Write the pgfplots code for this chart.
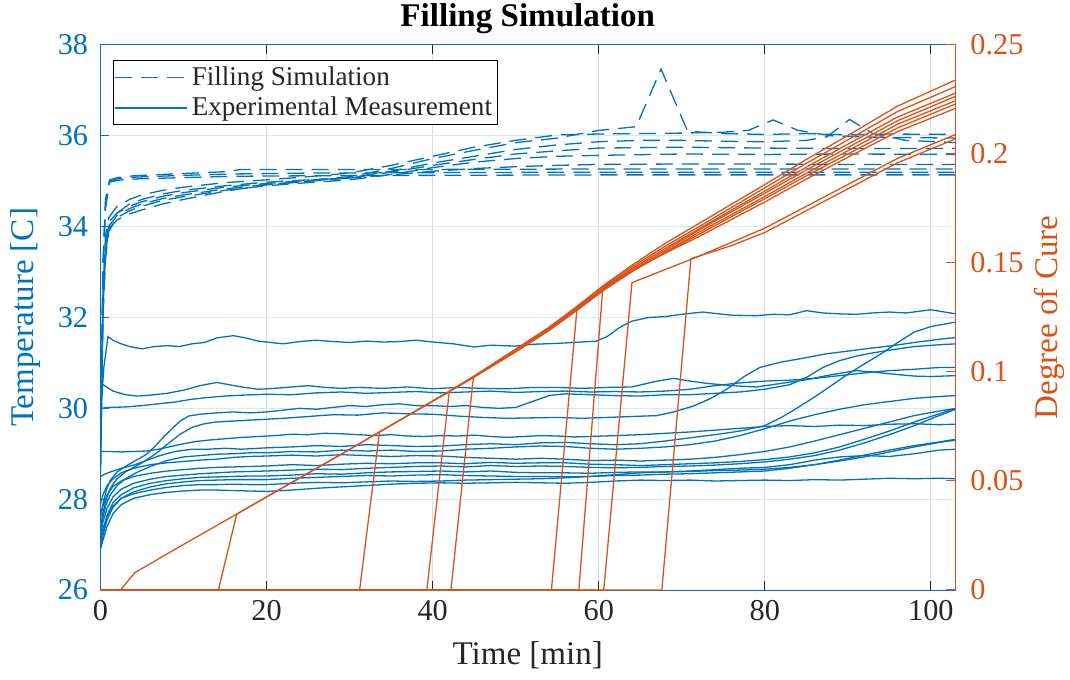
\documentclass[border=0pt]{standalone}
\usepackage{fontspec}
\setmainfont{Liberation Serif}
\usepackage{pgfplots}
\pgfplotsset{compat=1.18}
\usetikzlibrary{calc}
\definecolor{mblue}{RGB}{0,114,189}
\definecolor{morange}{RGB}{217,83,25}
\definecolor{axgray}{RGB}{38,38,38}
\pgfplotsset{
  common/.style={
    scale only axis, width=427.25bp, height=272.5bp,
    xmin=0, xmax=102.9,
    tick align=inside, major tick length=4.5bp,
    /pgf/number format/assume math mode=true,
    tick label style={font=\fontsize{15.2}{17}\selectfont},
  },
  sim/.style={mblue, line width=0.65bp, dash pattern=on 8.5bp off 4.5bp},
  exp/.style={mblue, line width=0.65bp},
  cure/.style={morange, line width=0.65bp},
}
\begin{document}
\begin{tikzpicture}
\begin{axis}[common,
  ymin=26, ymax=38, ytick={26,28,30,32,34,36,38},
  xtick={0,20,40,60,80,100},
  ytick pos=left,
  x axis line style={draw=axgray, line width=0.5bp},
  y axis line style={draw=mblue, line width=0.5bp},
  x tick style={axgray, line width=0.5bp},
  y tick style={mblue, line width=0.5bp},
  xticklabel style={text=axgray, anchor=north, inner sep=0pt, yshift=-5bp},
  yticklabel style={text=mblue, anchor=east, inner sep=0pt, xshift=-6bp},
  xmajorgrids, ymajorgrids,
  x grid style={black!14, line width=0.5bp},
  y grid style={mblue!16, line width=0.5bp},
  legend style={at={(0,1)}, anchor=north west, xshift=6.25bp, yshift=-7.5bp,
    draw=black, line width=0.5bp, fill=white, text=axgray,
    font=\fontsize{13.6}{15}\selectfont, inner xsep=0.5bp, inner ysep=0.8bp,
    nodes={inner xsep=2bp, inner ysep=2.2bp}, cells={anchor=west}},
  legend image code/.code={\draw[#1] (0bp,0bp) -- (36bp,0bp);},
]
\addlegendimage{sim}
\addlegendentry{Filling Simulation}
\addlegendimage{exp}
\addlegendentry{Experimental Measurement}
% ---------- filling simulation (dashed) ----------
\addplot[sim, forget plot] coordinates {(0,29.0) (0.3,32.4) (0.6,33.6) (1.0,34.1) (2,34.3) (3.5,34.45) (5,34.55) (7.5,34.67) (10,34.75) (15,34.87) (20,34.95) (25,35.02) (30,35.1) (35,35.28) (40,35.5) (45,35.68) (50,35.85) (55,35.95) (60,36.12) (64.5,36.2) (67.5,37.47) (70.7,36.1) (75,36.05) (80,36.03) (85,36.05) (90,36.02) (95,36.04) (103,36.03)};
\addplot[sim, forget plot] coordinates {(0,29.0) (0.3,32.6) (0.6,33.8) (1.0,34.2) (2,34.45) (3.5,34.6) (5,34.7) (7.5,34.8) (10,34.87) (15,34.97) (20,35.03) (25,35.1) (30,35.18) (35,35.35) (40,35.55) (45,35.75) (50,35.9) (55,36.02) (60,36.04) (65,36.05) (70,36.06) (75,36.08) (78,36.12) (81,36.35) (84,36.12) (88,36.0) (93,35.97) (98,35.96) (103,35.95)};
\addplot[sim, forget plot] coordinates {(0,28.8) (0.3,32.2) (0.6,33.4) (1.0,33.95) (2,34.15) (3.5,34.28) (5,34.37) (7.5,34.5) (10,34.6) (15,34.78) (20,34.92) (25,35.0) (30,35.08) (35,35.22) (40,35.4) (45,35.55) (50,35.7) (55,35.8) (60,35.87) (65,35.9) (70,35.9) (75,35.88) (80,35.87) (85,35.9) (87.5,35.98) (90.2,36.36) (93,36.05) (97,35.9) (103,35.85)};
\addplot[sim, forget plot] coordinates {(0,28.8) (0.3,32.3) (0.6,33.5) (1.0,34.0) (2,34.25) (3.5,34.4) (5,34.5) (7.5,34.62) (10,34.7) (15,34.83) (20,34.93) (25,35.0) (30,35.07) (35,35.2) (40,35.35) (45,35.48) (50,35.6) (55,35.67) (60,35.73) (70,35.75) (80,35.73) (90,35.72) (103,35.72)};
\addplot[sim, forget plot] coordinates {(0,28.6) (0.3,32.0) (0.6,33.3) (1.0,33.9) (2,34.2) (3.5,34.35) (5,34.45) (7.5,34.58) (10,34.66) (15,34.8) (20,34.9) (25,34.97) (30,35.03) (35,35.15) (40,35.3) (45,35.42) (50,35.5) (55,35.55) (60,35.57) (70,35.6) (80,35.59) (90,35.6) (103,35.59)};
\addplot[sim, forget plot] coordinates {(0,28.6) (0.3,32.1) (0.6,33.4) (1.0,34.0) (2,34.3) (3.5,34.5) (5,34.6) (7.5,34.72) (10,34.8) (15,34.9) (20,34.98) (25,35.03) (30,35.07) (35,35.14) (40,35.22) (45,35.28) (50,35.32) (55,35.35) (60,35.37) (70,35.38) (80,35.38) (90,35.37) (103,35.37)};
\addplot[sim, forget plot] coordinates {(0,29.2) (0.3,33.0) (0.6,34.4) (1.1,34.98) (2,35.02) (4,35.05) (10,35.08) (16,35.11) (25,35.12) (40,35.13) (60,35.14) (80,35.14) (103,35.14)};
\addplot[sim, forget plot] coordinates {(0,29.2) (0.3,33.1) (0.6,34.5) (1.1,35.0) (2,35.05) (4,35.09) (10,35.13) (16,35.16) (25,35.18) (40,35.19) (60,35.2) (80,35.2) (103,35.2)};
\addplot[sim, forget plot] coordinates {(0,29.2) (0.3,33.2) (0.6,34.6) (1.1,35.03) (2,35.08) (4,35.12) (10,35.17) (15,35.21) (17,35.26) (25,35.26) (40,35.26) (60,35.27) (80,35.27) (103,35.27)};
% ---------- experimental measurement (solid) ----------
\addplot[exp, forget plot] coordinates {(0,29.8) (0.4,30.9) (0.9,31.58) (1.5,31.5) (2.5,31.42) (3.5,31.36) (5,31.31) (6.5,31.36) (8,31.38) (9.5,31.36) (11,31.42) (12.5,31.45) (14,31.55) (16,31.6) (17.5,31.55) (19,31.48) (20.5,31.45) (22,31.42) (24,31.47) (26,31.5) (28,31.47) (30,31.45) (32,31.48) (34,31.46) (36,31.47) (38,31.5) (40,31.46) (42.5,31.42) (45,31.35) (47,31.39) (50,31.37) (52,31.41) (55,31.43) (57,31.45) (59.7,31.48) (61,31.58) (62.5,31.78) (64,31.92) (66,32.0) (68,32.02) (70,32.07) (72.5,32.12) (74,32.09) (76,32.05) (79,32.04) (81,32.07) (83,32.06) (85,32.15) (87,32.1) (89,32.08) (91,32.07) (93,32.1) (95,32.12) (97,32.1) (100,32.17) (103,32.08)};
\addplot[exp, forget plot] coordinates {(0,30.55) (0.5,30.5) (1.5,30.38) (3,30.3) (4.5,30.27) (6,30.29) (8,30.33) (10,30.4) (12,30.5) (14,30.57) (15.5,30.52) (17,30.47) (19,30.42) (21,30.44) (23,30.47) (25,30.5) (27,30.46) (29,30.44) (31,30.46) (34,30.44) (37,30.47) (40,30.43) (43,30.46) (46,30.44) (49,30.43) (52,30.46) (55,30.46) (58,30.44) (61,30.46) (64,30.47) (66.5,30.58) (69,30.66) (71,30.6) (73,30.55) (76,30.5) (79,30.47) (82,30.55) (85,30.63) (88,30.74) (91,30.83) (93,30.8) (95,30.76) (98,30.71) (100,30.7) (103,30.72)};
\addplot[exp, forget plot] coordinates {(0,30.0) (1,30.02) (3,30.03) (5,30.06) (7,30.1) (9,30.14) (11,30.2) (13,30.24) (15,30.27) (17,30.29) (20,30.31) (23,30.3) (26,30.34) (29,30.36) (32,30.33) (35,30.35) (38,30.37) (41,30.34) (44,30.36) (47,30.38) (50,30.35) (53,30.37) (56,30.38) (59,30.36) (62,30.37) (65,30.36) (68,30.38) (71,30.42) (74,30.5) (77,30.56) (80,30.6) (83,30.62) (86,30.66) (89,30.72) (92,30.78) (95,30.83) (98,30.86) (101,30.9) (103,30.9)};
\addplot[exp, forget plot] coordinates {(0,27.6) (0.3,27.9) (0.7,28.2) (1.2,28.42) (2,28.6) (3,28.72) (4.2,28.85) (5.4,28.97) (6.5,29.15) (7.5,29.35) (8.6,29.55) (9.6,29.72) (10.6,29.83) (12,29.87) (14,29.9) (16,29.92) (18,29.9) (20,29.92) (22,29.96) (24,30.0) (26,29.98) (28,30.02) (30,30.06) (32,30.04) (34,30.08) (36,30.1) (38,30.06) (40,30.06) (42,30.04) (44,30.06) (46,30.02) (48,30.0) (50,30.02) (52,30.15) (54,30.28) (56,30.32) (59,30.3) (62,30.28) (65,30.27) (68,30.3) (71,30.3) (74,30.33) (77,30.36) (80,30.42) (83,30.52) (85,30.68) (87,30.9) (89,31.05) (91,31.15) (93,31.22) (95,31.28) (98,31.36) (101,31.4) (103,31.42)};
\addplot[exp, forget plot] coordinates {(0,27.4) (0.3,27.7) (0.7,28.0) (1.2,28.25) (2,28.45) (3,28.6) (4,28.7) (5,28.8) (6.5,28.98) (8,29.2) (9.5,29.42) (11,29.58) (12.5,29.66) (14,29.7) (16,29.72) (18,29.74) (20,29.76) (22,29.78) (25,29.82) (28,29.86) (31,29.85) (34,29.9) (37,29.88) (40,29.87) (43,29.83) (46,29.8) (49,29.78) (52,29.79) (55,29.8) (58,29.78) (61,29.8) (64,29.82) (67,29.84) (69,29.92) (71.4,30.05) (73.5,30.22) (75.4,30.42) (77.5,30.7) (79.4,30.9) (82,31.02) (84.5,31.1) (87.4,31.2) (90,31.26) (93,31.33) (95.4,31.38) (98,31.45) (101,31.52) (103,31.56)};
\addplot[exp, forget plot] coordinates {(0,29.05) (1,29.05) (2.5,29.04) (4,29.05) (5.5,29.06) (7,29.1) (8.5,29.16) (10,29.22) (11.5,29.27) (13,29.3) (15,29.33) (17,29.36) (19,29.38) (21,29.4) (23,29.43) (25,29.42) (27,29.45) (29,29.44) (31,29.42) (33,29.4) (35,29.42) (37,29.39) (39,29.38) (41,29.4) (43,29.39) (45,29.41) (47,29.38) (49,29.36) (51,29.38) (53,29.4) (55,29.39) (57,29.37) (59,29.38) (62,29.4) (65,29.42) (68,29.45) (71,29.48) (74,29.52) (77,29.56) (80,29.6) (83,29.62) (86,29.6) (89,29.63) (92,29.62) (95,29.65) (98,29.66) (101,29.64) (103,29.65)};
\addplot[exp, forget plot] coordinates {(0,28.5) (0.5,28.55) (1.2,28.6) (2.5,28.68) (4,28.75) (5.5,28.85) (7,28.95) (9,29.05) (11,29.1) (13,29.1) (15,29.12) (17,29.1) (20,29.13) (23,29.15) (26,29.18) (29,29.16) (32,29.2) (35,29.18) (38,29.16) (41,29.17) (44,29.2) (47,29.22) (50,29.2) (53,29.24) (56,29.25) (59,29.22) (62,29.2) (65,29.22) (68,29.28) (71,29.35) (74,29.42) (77,29.5) (80,29.62) (82,29.8) (84,30.02) (86,30.25) (88,30.5) (90,30.75) (92,30.98) (94,31.2) (96,31.45) (98,31.68) (100,31.8) (103,31.9)};
\addplot[exp, forget plot] coordinates {(0,27.3) (0.3,27.6) (0.7,27.9) (1.2,28.1) (2,28.3) (3,28.45) (4.5,28.6) (6,28.72) (8,28.85) (10,28.93) (12,28.96) (14,28.99) (16,29.0) (18,29.02) (20,29.02) (23,29.05) (26,29.04) (29,29.08) (32,29.06) (35,29.08) (38,29.05) (41,29.06) (44,29.1) (47,29.12) (50,29.15) (53,29.17) (56,29.16) (59,29.12) (62,29.1) (65,29.12) (68,29.15) (71,29.2) (74,29.28) (77,29.4) (80,29.55) (83,29.72) (86,29.86) (89,29.98) (92,30.08) (95,30.15) (98,30.22) (101,30.26) (103,30.28)};
\addplot[exp, forget plot] coordinates {(0,27.9) (0.3,28.1) (0.8,28.3) (1.5,28.45) (2.5,28.58) (4,28.68) (6,28.76) (8,28.8) (10,28.83) (12,28.86) (14,28.88) (16,28.92) (18,28.94) (20,28.95) (23,28.97) (26,28.95) (29,28.98) (32,28.96) (35,28.94) (38,28.96) (41,28.95) (44,28.92) (47,28.9) (50,28.88) (53,28.9) (56,28.88) (59,28.85) (62,28.86) (65,28.84) (68,28.86) (71,28.88) (74,28.92) (77,28.98) (80,29.05) (83,29.15) (86,29.28) (89,29.42) (92,29.56) (95,29.7) (98,29.84) (101,29.94) (103,30.0)};
\addplot[exp, forget plot] coordinates {(0,27.6) (0.3,27.85) (0.8,28.1) (1.5,28.28) (2.5,28.4) (4,28.5) (6,28.57) (8,28.62) (10,28.65) (12,28.68) (14,28.7) (16,28.71) (18,28.72) (20,28.73) (23,28.76) (26,28.74) (29,28.77) (32,28.79) (35,28.78) (38,28.8) (41,28.8) (44,28.78) (47,28.81) (50,28.79) (53,28.8) (56,28.8) (59,28.77) (62,28.76) (65,28.74) (68,28.76) (71,28.78) (74,28.8) (77,28.83) (80,28.87) (83,28.93) (86,29.02) (89,29.15) (92,29.32) (95,29.5) (98,29.7) (101,29.88) (103,30.0)};
\addplot[exp, forget plot] coordinates {(0,27.2) (0.3,27.5) (0.8,27.8) (1.5,28.05) (2.5,28.22) (4,28.35) (6,28.44) (8,28.5) (10,28.53) (12,28.56) (14,28.58) (16,28.6) (18,28.61) (20,28.62) (23,28.64) (26,28.66) (29,28.65) (32,28.68) (35,28.7) (38,28.72) (41,28.73) (44,28.71) (47,28.74) (50,28.72) (53,28.73) (56,28.72) (59,28.7) (62,28.69) (65,28.7) (68,28.72) (71,28.73) (74,28.75) (77,28.78) (80,28.82) (83,28.88) (86,28.96) (89,29.08) (92,29.24) (95,29.42) (98,29.62) (101,29.84) (103,29.98)};
\addplot[exp, forget plot] coordinates {(0,27.0) (0.3,27.3) (0.8,27.65) (1.5,27.92) (2.5,28.1) (4,28.25) (6,28.35) (8,28.41) (10,28.45) (12,28.48) (14,28.49) (16,28.5) (18,28.51) (20,28.51) (23,28.53) (26,28.56) (29,28.55) (32,28.58) (35,28.6) (38,28.61) (41,28.62) (44,28.6) (47,28.62) (50,28.59) (53,28.58) (56,28.58) (59,28.57) (62,28.59) (65,28.6) (68,28.6) (71,28.61) (74,28.63) (77,28.64) (80,28.66) (83,28.7) (86,28.76) (89,28.84) (92,28.93) (95,29.04) (98,29.15) (101,29.25) (103,29.3)};
\addplot[exp, forget plot] coordinates {(0,26.95) (0.3,27.2) (0.8,27.55) (1.5,27.82) (2.5,28.02) (4,28.16) (6,28.27) (8,28.34) (10,28.38) (12,28.41) (14,28.42) (16,28.43) (18,28.43) (20,28.43) (23,28.46) (26,28.48) (29,28.5) (32,28.52) (35,28.51) (38,28.53) (41,28.54) (44,28.52) (47,28.51) (50,28.5) (53,28.5) (56,28.49) (59,28.5) (62,28.52) (65,28.53) (68,28.55) (71,28.56) (74,28.58) (77,28.6) (80,28.62) (83,28.68) (86,28.76) (89,28.86) (92,28.97) (95,29.08) (98,29.18) (101,29.26) (103,29.32)};
\addplot[exp, forget plot] coordinates {(0,27.1) (0.3,27.35) (0.8,27.62) (1.5,27.85) (2.5,28.02) (4,28.12) (6,28.2) (8,28.26) (10,28.3) (12,28.32) (14,28.32) (16,28.33) (18,28.32) (20,28.32) (23,28.35) (26,28.37) (29,28.36) (32,28.38) (35,28.4) (38,28.39) (41,28.4) (44,28.42) (47,28.43) (50,28.44) (53,28.45) (56,28.47) (59,28.5) (62,28.54) (65,28.58) (68,28.6) (71,28.62) (74,28.65) (77,28.68) (80,28.7) (83,28.76) (86,28.86) (89,28.93) (92,28.96) (95,28.94) (98,29.0) (101,29.08) (103,29.1)};
\addplot[exp, forget plot] coordinates {(0,26.9) (0.3,27.1) (0.8,27.4) (1.5,27.68) (2.5,27.88) (4,28.02) (6,28.1) (8,28.15) (10,28.18) (12,28.2) (14,28.2) (16,28.19) (18,28.18) (20,28.17) (23,28.2) (26,28.24) (29,28.27) (32,28.3) (35,28.33) (38,28.35) (41,28.36) (44,28.35) (47,28.36) (50,28.37) (53,28.36) (56,28.35) (59,28.37) (62,28.4) (65,28.42) (68,28.41) (71,28.42) (74,28.4) (77,28.41) (80,28.42) (83,28.41) (86,28.43) (89,28.42) (92,28.44) (95,28.46) (98,28.45) (101,28.46) (103,28.45)};
\end{axis}
\begin{axis}[common,
  ymin=0, ymax=0.25, ytick={0,0.05,0.1,0.15,0.2,0.25},
  axis x line=none, axis y line*=right, clip=false,
  y axis line style={draw=morange, line width=0.5bp},
  y tick style={morange, line width=0.5bp},
  yticklabel style={text=morange, anchor=west, inner sep=0pt, xshift=7.5bp,
    /pgf/number format/fixed, /pgf/number format/precision=2},
  scaled y ticks=false,
]
\coordinate (SW) at (rel axis cs:0,0);
\coordinate (NE) at (rel axis cs:1,1);
\addplot[cure] coordinates {(0,0) (2.4,0) (4.15,0.008) (10,0.0209) (16.4,0.0348) (20,0.0427) (25,0.0536) (30,0.0645) (33.6,0.0725) (38,0.0822) (42,0.0912) (45,0.0982) (50,0.1105) (54,0.1205) (57.4,0.1302) (60.5,0.1395) (64,0.149) (68,0.159) (72,0.168) (76,0.177) (80,0.186) (85,0.1975) (90,0.2085) (96,0.222) (103,0.234)};
\addplot[cure] coordinates {(0,0) (14.2,0) (16.4,0.0348) (20,0.0427) (25,0.0536) (30,0.0645) (33.6,0.0725) (38,0.0822) (42,0.0911) (45,0.098) (50,0.1102) (54,0.1202) (57.4,0.1298) (60.5,0.139) (64,0.1482) (68,0.1577) (72,0.1665) (76,0.1755) (80,0.1845) (85,0.1957) (90,0.2065) (96,0.2195) (103,0.231)};
\addplot[cure] coordinates {(0,0) (31.2,0) (33.6,0.0725) (38,0.0822) (42,0.091) (45,0.0978) (50,0.1098) (54,0.1197) (57.4,0.1293) (60.5,0.1383) (64,0.1474) (68,0.1567) (72,0.1655) (76,0.1743) (80,0.183) (85,0.194) (90,0.2045) (96,0.217) (103,0.228)};
\addplot[cure] coordinates {(0,0) (39.3,0) (42,0.091) (45,0.0977) (50,0.1095) (54,0.1193) (57.4,0.1288) (60.5,0.1377) (64,0.1467) (68,0.1558) (72,0.165) (76,0.1735) (80,0.182) (85,0.1927) (90,0.203) (96,0.2153) (103,0.2265)};
\addplot[cure] coordinates {(0,0) (42.2,0) (44.9,0.0975) (50,0.1092) (54,0.119) (57.4,0.1283) (60.5,0.1372) (64,0.146) (68,0.155) (72,0.164) (76,0.1722) (80,0.1805) (85,0.1912) (90,0.2015) (96,0.2137) (103,0.2245)};
\addplot[cure] coordinates {(0,0) (54.3,0) (57.4,0.1298) (60.5,0.1378) (64,0.1462) (68,0.1548) (72,0.163) (76,0.1713) (80,0.1795) (85,0.19) (90,0.2) (96,0.212) (103,0.223)};
\addplot[cure] coordinates {(0,0) (57.6,0) (60.5,0.139) (64,0.1465) (68,0.1545) (72,0.162) (76,0.17) (80,0.178) (85,0.1885) (90,0.1985) (96,0.2103) (103,0.221)};
\addplot[cure] coordinates {(0,0) (60.6,0) (64,0.141) (68,0.147) (72,0.153) (76,0.1595) (80,0.166) (85,0.176) (90,0.186) (96,0.198) (103,0.209)};
\addplot[cure] coordinates {(0,0) (67.6,0) (71.1,0.152) (76,0.158) (80,0.164) (85,0.174) (90,0.184) (96,0.196) (103,0.207)};
\end{axis}
\node[font=\bfseries\fontsize{16.6}{19}\selectfont, anchor=base, text=black] at ($(SW|-NE)!0.5!(NE)+(0,9bp)$) {Filling Simulation};
\node[font=\fontsize{16.6}{19}\selectfont, anchor=base, text=axgray] at ($(SW)!0.5!(SW-|NE)+(0,-37bp)$) {Time [min]};
\node[font=\fontsize{16.6}{19}\selectfont, rotate=90, anchor=center, text=mblue] at ($(SW)!0.5!(SW|-NE)+(-37.5bp,0)$) {Temperature [C]};
\node[font=\fontsize{16.6}{19}\selectfont, rotate=90, anchor=center, text=morange] at ($(SW-|NE)!0.5!(NE)+(47bp,0)$) {Degree of Cure};
\pgfresetboundingbox
\path ($(SW)+(-50.25bp,-45bp)$) rectangle ($(NE)+(57.5bp,22.5bp)$);
\end{tikzpicture}
\end{document}
